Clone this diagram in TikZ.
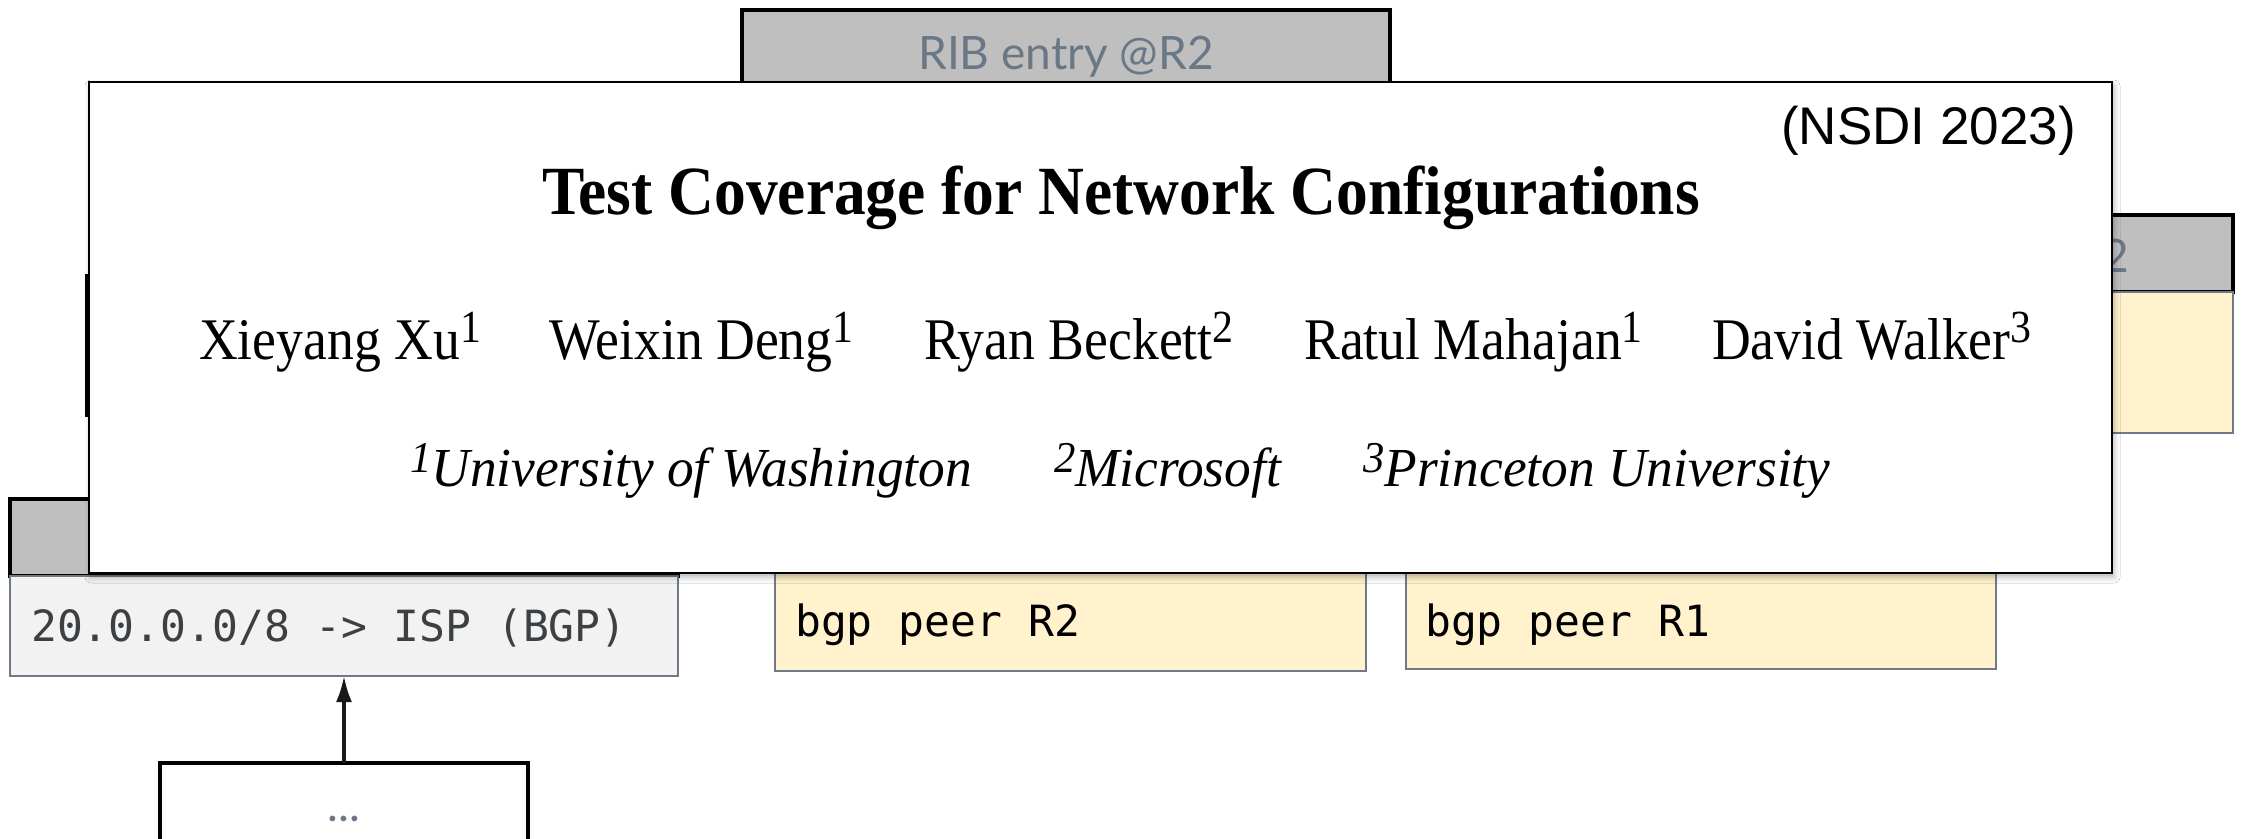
\documentclass[tikz,border=0pt]{standalone}
\usepackage{fontspec}
\usepackage{graphicx}
\setmainfont{Liberation Serif}
\newfontfamily\latofont{Lato}
\newfontfamily\arialfont{Liberation Sans}
\newfontfamily\codefont{DejaVu Sans Mono}
\usetikzlibrary{arrows.meta,shadows.blur}

\definecolor{hdrgray}{RGB}{191,191,191}
\definecolor{slate}{RGB}{106,120,134}
\definecolor{cfgyellow}{RGB}{255,242,204}
\definecolor{thinedge}{RGB}{110,122,135}
\definecolor{ipfill}{RGB}{242,242,242}
\definecolor{iptext}{RGB}{60,64,67}

% raised affiliation marks
\newcommand{\authmark}[1]{\raisebox{17pt}{\fontsize{46}{46}\selectfont #1}}
\newcommand{\affmark}[1]{\raisebox{14pt}{\fontsize{44}{44}\selectfont #1}}

\tikzset{
  rect/.style={rectangle, inner sep=0pt, outer sep=0pt},
  hdrbox/.style={rect, fill=hdrgray, draw=black, line width=3.3pt},
  framebox/.style={rect, fill=white, draw=black, line width=3.3pt},
  cfgbox/.style={rect, fill=cfgyellow, draw=thinedge, line width=1.5pt},
  ipbox/.style={rect, fill=ipfill, draw=thinedge, line width=1.5pt},
  hdrtext/.style={inner sep=0pt, text=slate, font=\latofont\fontsize{46}{54}\selectfont},
  codetext/.style={inner sep=0pt, anchor=base west, font=\codefont\fontsize{43}{50}\selectfont},
  author/.style={inner sep=0pt, anchor=base west, font=\fontsize{59}{66}\selectfont},
  affil/.style={inner sep=0pt, anchor=base west, font=\itshape\fontsize{55}{62}\selectfont},
  flow/.style={line width=3.2pt, draw=black!90, -{Latex[length=26pt,width=16pt]}}
}

\begin{document}
\begin{tikzpicture}[x=1pt,y=1pt]
\clip (0,0) rectangle (2242,-838);
\fill[white] (0,0) rectangle (2242,-838);

% RIB header at the top
\node[hdrbox, minimum width=648pt, minimum height=180pt, anchor=north west] (rib) at (742,-10) {};
\node[hdrtext, anchor=base] (ribl) at (1066,-69) {RIB entry @R2};

% configuration box on the right
\node[hdrbox, minimum width=648pt, minimum height=77pt, anchor=north east] (rhdr) at (2233,-215) {};
\node[hdrtext, anchor=base east] (rhdrl) at (2129,-272) {@R2};
\node[cfgbox, minimum width=648pt, minimum height=141pt, anchor=north east] (rcfg) at (2233,-292) {};

% box on the upper left
\node[framebox, minimum width=620pt, minimum height=139pt, anchor=north west] (lbox) at (87,-276) {};

% RIB entry on the left
\node[hdrbox, minimum width=668pt, minimum height=77pt, anchor=north west] (lhdr) at (10,-499) {};
\node[ipbox, minimum width=668pt, minimum height=100pt, anchor=north west] (ip) at (10,-576) {};
\node[codetext, text=iptext] (ipl) at (31,-641) {20.0.0.0/8 -> ISP (BGP)};

% bgp peer configurations
\node[cfgbox, minimum width=591pt, minimum height=180pt, anchor=south west] (peer2) at (775,-671) {};
\node[codetext, text=black] (peer2l) at (795,-636) {bgp peer R2};
\node[cfgbox, minimum width=590pt, minimum height=180pt, anchor=south west] (peer1) at (1406,-669) {};
\node[codetext, text=black] (peer1l) at (1425,-636) {bgp peer R1};

% source box at the bottom
\node[framebox, minimum width=368pt, minimum height=140pt, anchor=north west] (more) at (160,-763) {};
\node[hdrtext, anchor=base] (morel) at (344,-821) {...};
\draw[flow] (more.north) -- (ip.south);

% paper card
\node[rect, fill=white, draw=black, line width=2.5pt,
      blur shadow={shadow xshift=2pt, shadow yshift=-4pt, shadow blur radius=6pt, shadow opacity=30},
      minimum width=2023pt, minimum height=491pt, anchor=north west] (card) at (89,-82) {};

\node[inner sep=0pt, anchor=base east, font=\arialfont\fontsize{53}{60}\selectfont] (venue) at (2076,-144) {(NSDI 2023)};
\node[inner sep=0pt, anchor=base, font=\bfseries\fontsize{69}{80}\selectfont] (title) at (1121,-214)
  {\scalebox{0.92}[1]{Test Coverage for Network Configurations}};

\node[author] (a1) at (199,-359) {\scalebox{0.91}[1]{Xieyang Xu\authmark{1}}};
\node[author] (a2) at (549,-359) {\scalebox{0.91}[1]{Weixin Deng\authmark{1}}};
\node[author] (a3) at (924,-359) {\scalebox{0.91}[1]{Ryan Beckett\authmark{2}}};
\node[author] (a4) at (1304,-359) {\scalebox{0.91}[1]{Ratul Mahajan\authmark{1}}};
\node[author] (a5) at (1712,-359) {\scalebox{0.91}[1]{David Walker\authmark{3}}};

\node[affil] (f1) at (410,-486) {\scalebox{0.97}[1]{\affmark{1}University of Washington}};
\node[affil] (f2) at (1054,-486) {\scalebox{0.97}[1]{\affmark{2}Microsoft}};
\node[affil] (f3) at (1363,-486) {\scalebox{0.97}[1]{\affmark{3}Princeton University}};
\end{tikzpicture}
\end{document}
